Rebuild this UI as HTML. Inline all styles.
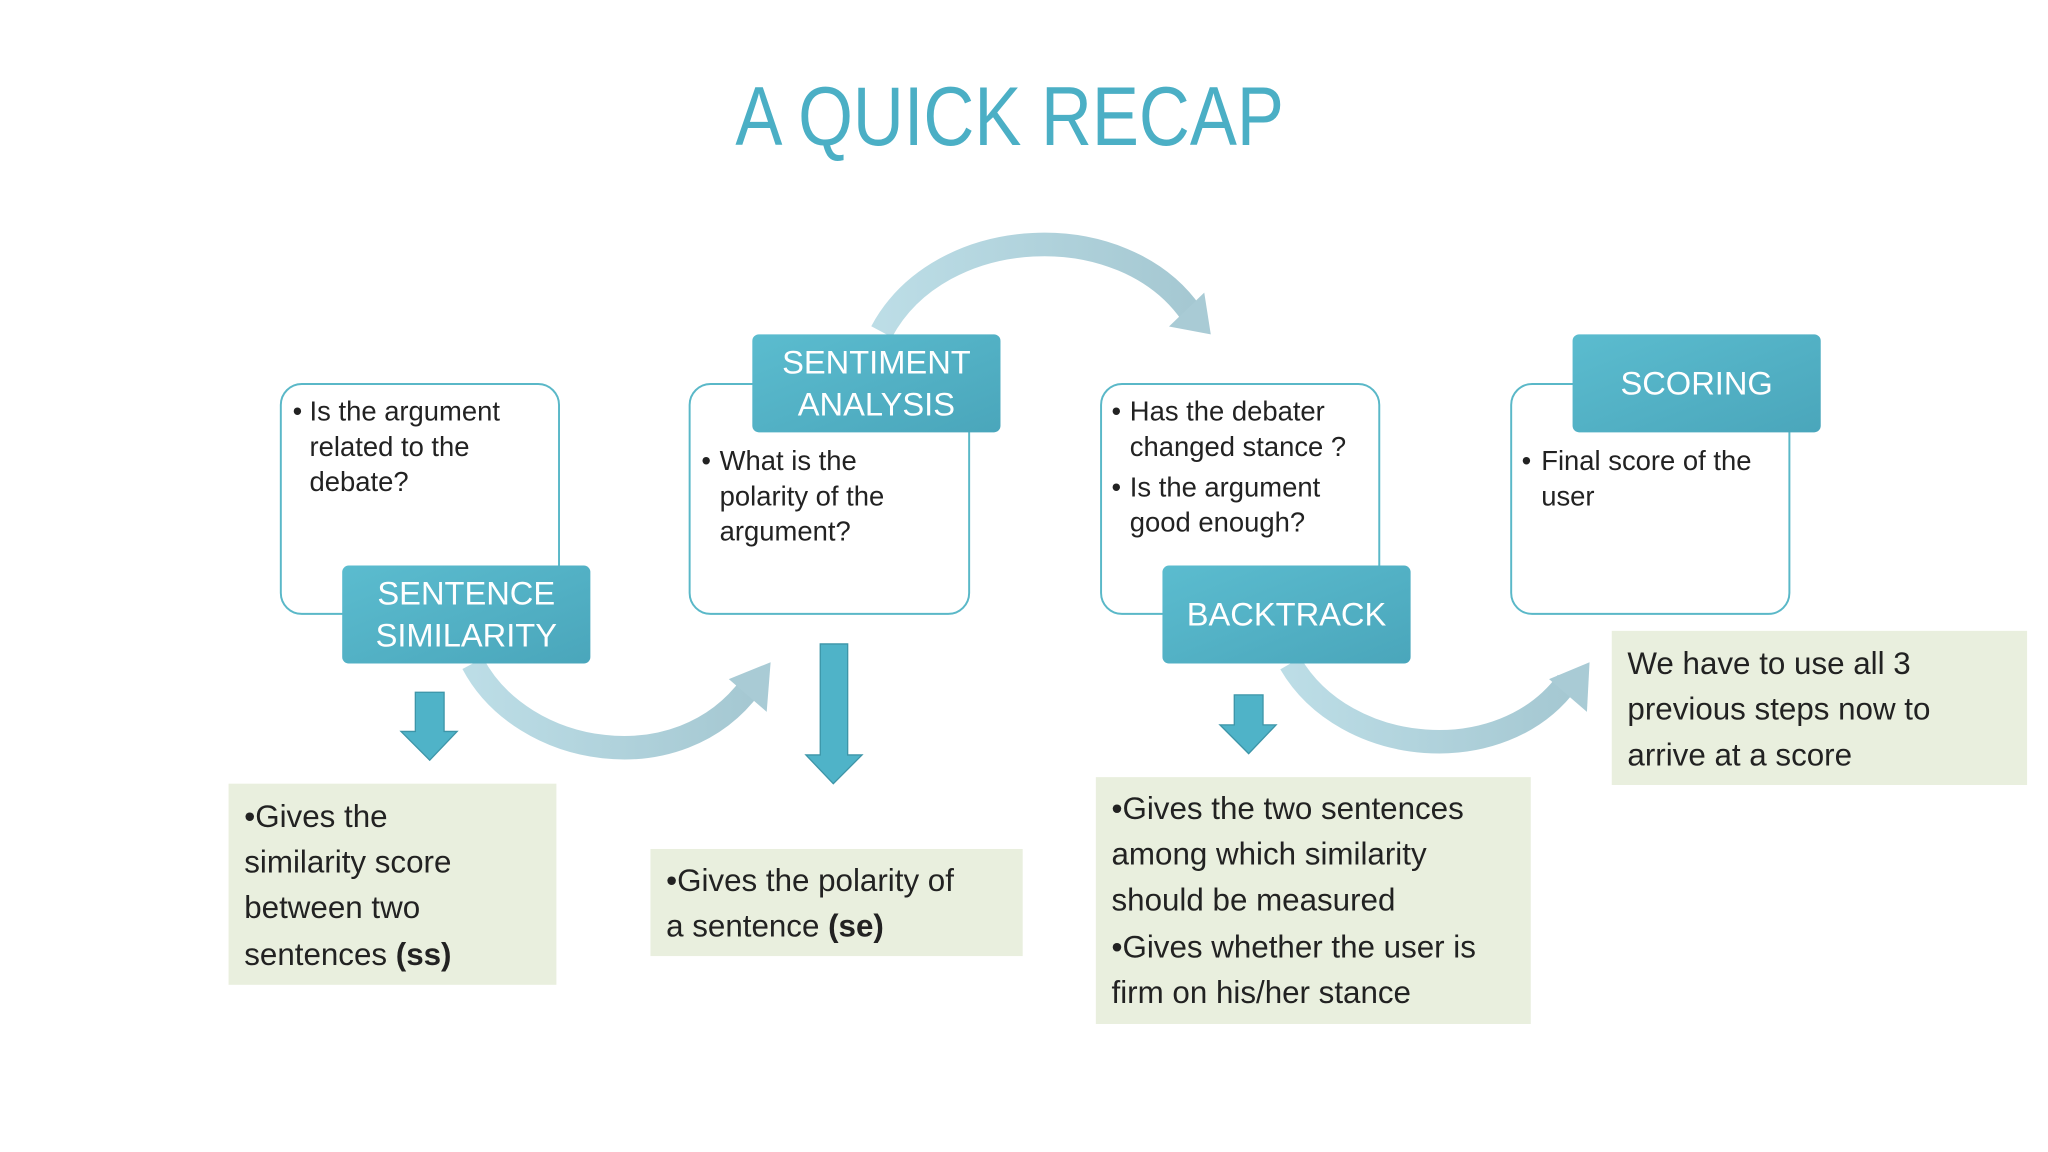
<!DOCTYPE html>
<html><head><meta charset="utf-8"><style>html,body{margin:0;padding:0;background:#fff;}svg{display:block}</style></head>
<body>
<svg width="2048" height="1152" viewBox="0 0 1568 882" xmlns="http://www.w3.org/2000/svg" font-family="Liberation Sans, sans-serif">
<defs>
<linearGradient id="lg" x1="0" y1="0" x2="1" y2="1"><stop offset="0" stop-color="#5bbccf"/><stop offset="1" stop-color="#4aa6bb"/></linearGradient>
<linearGradient id="ag" x1="0" y1="0" x2="1" y2="0"><stop offset="0" stop-color="#bcdde6"/><stop offset="1" stop-color="#a5c8d2"/></linearGradient>
</defs>
<rect width="1568" height="882" fill="#fff"/>
<text x="773" y="111" text-anchor="middle" font-size="64" fill="#4bafc5" textLength="420" lengthAdjust="spacingAndGlyphs">A QUICK RECAP</text>

<!-- curved arrows -->
<g fill="none" stroke="url(#ag)" stroke-width="18">
<path d="M362,508 C400,580 520,600 575,525"/>
<path d="M675,254 C720,170 860,165 912,240"/>
<path d="M988,508 C1030,580 1150,590 1200,522"/>
</g>
<g fill="#a9cbd5">
<polygon points="590,507 587,545 558,520"/>
<polygon points="927,256 895,250 922,224"/>
<polygon points="1217,507 1215,545 1186,520"/>
</g>

<!-- white boxes -->
<g fill="#fff" stroke="#5ab8c8" stroke-width="1.5">
<rect x="215" y="294" width="213" height="176" rx="16"/>
<rect x="528" y="294" width="214" height="176" rx="16"/>
<rect x="843" y="294" width="213" height="176" rx="16"/>
<rect x="1157" y="294" width="213" height="176" rx="16"/>
</g>
<g font-size="21" fill="#222">
<text x="224" y="322">•</text><text x="237" y="322">Is the argument</text><text x="237" y="349">related to the</text><text x="237" y="376">debate?</text>
<text x="537" y="360">•</text><text x="551" y="360">What is the</text><text x="551" y="387">polarity of the</text><text x="551" y="414">argument?</text>
<text x="851" y="322">•</text><text x="865" y="322">Has the debater</text><text x="865" y="349">changed stance ?</text>
<text x="851" y="380">•</text><text x="865" y="380">Is the argument</text><text x="865" y="407">good enough?</text>
<text x="1165" y="360">•</text><text x="1180" y="360">Final score of the</text><text x="1180" y="387">user</text>
</g>

<!-- labels -->
<g fill="url(#lg)">
<rect x="262" y="433" width="190" height="75" rx="5"/>
<rect x="576" y="256" width="190" height="75" rx="5"/>
<rect x="890" y="433" width="190" height="75" rx="5"/>
<rect x="1204" y="256" width="190" height="75" rx="5"/>
</g>
<g font-size="25" fill="#fff" text-anchor="middle">
<text x="357" y="463">SENTENCE</text><text x="357" y="495">SIMILARITY</text>
<text x="671" y="286">SENTIMENT</text><text x="671" y="318">ANALYSIS</text>
<text x="985" y="479">BACKTRACK</text>
<text x="1299" y="302">SCORING</text>
</g>

<!-- down arrows -->
<g fill="#4fb3c8" stroke="#3d95a8" stroke-width="1">
<polygon points="318,530 340,530 340,560 350,560 329,582 307,560 318,560"/>
<polygon points="628,493 649,493 649,578 660,578 638,600 617,578 628,578"/>
<polygon points="945,532 967,532 967,555 977,555 956,577 934,555 945,555"/>
</g>

<!-- green boxes -->
<g fill="#e9efde">
<rect x="175" y="600" width="251" height="154"/>
<rect x="498" y="650" width="285" height="82"/>
<rect x="839" y="595" width="333" height="189"/>
<rect x="1234" y="483" width="318" height="118"/>
</g>
<g font-size="24" fill="#222">
<text x="187" y="633">•Gives the</text><text x="187" y="668">similarity score</text><text x="187" y="703">between two</text><text x="187" y="739">sentences <tspan font-weight="bold">(ss)</tspan></text>
<text x="510" y="682">•Gives the polarity of</text><text x="510" y="717">a sentence <tspan font-weight="bold">(se)</tspan></text>
<text x="851" y="627">•Gives the two sentences</text><text x="851" y="662">among which similarity</text><text x="851" y="697">should be measured</text><text x="851" y="733">•Gives whether the user is</text><text x="851" y="768">firm on his/her stance</text>
<text x="1246" y="516">We have to use all 3</text><text x="1246" y="551">previous steps now to</text><text x="1246" y="586">arrive at a score</text>
</g>
</svg>
</body></html>
